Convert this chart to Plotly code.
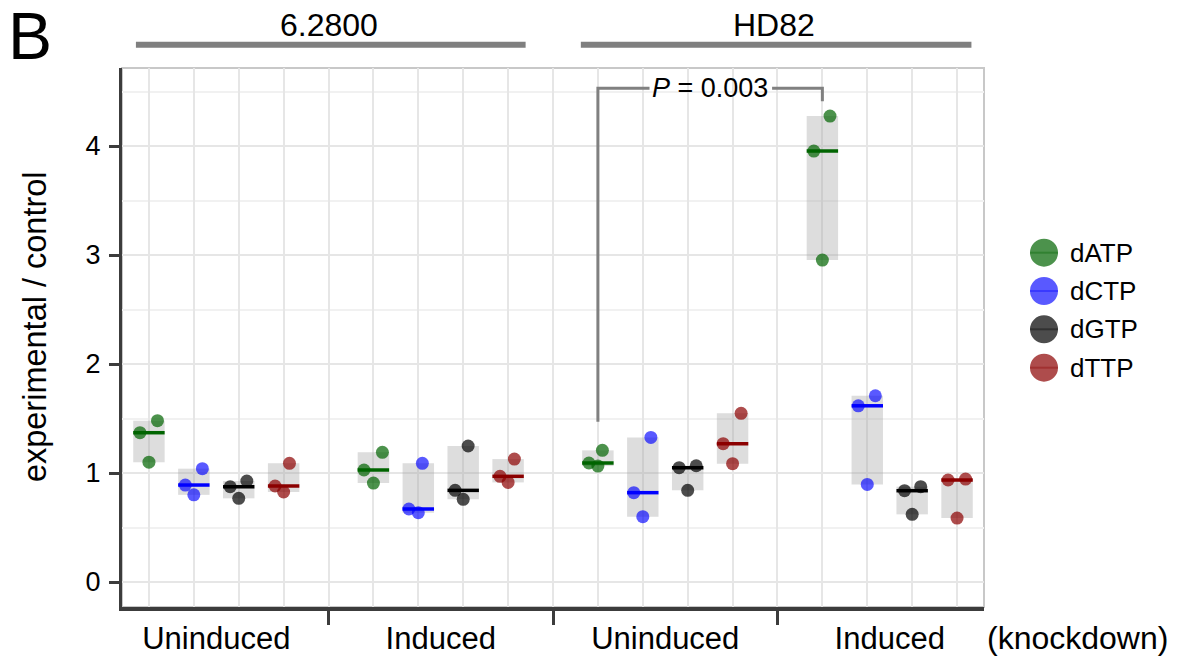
import numpy as np
import plotly.graph_objects as go

# ---------------- data ----------------
cell_lines = ["6.2800", "HD82"]
conditions = ["Uninduced", "Induced", "Uninduced", "Induced"]
nucleotides = ["dATP", "dCTP", "dGTP", "dTTP"]

# replicate values per condition group (3 replicates each)
dATP = [[1.37, 1.10, 1.48], [1.028, 0.908, 1.19], [1.092, 1.064, 1.208], [3.954, 2.954, 4.275]]
dCTP = [[0.89, 0.80, 1.04], [0.670, 0.636, 1.089], [0.82, 0.60, 1.327], [1.617, 0.896, 1.709]]
dGTP = [[0.874, 0.768, 0.927], [0.841, 0.759, 1.248], [1.049, 0.841, 1.067], [0.838, 0.621, 0.875]]
dTTP = [[0.881, 0.826, 1.089], [0.97, 0.914, 1.128], [1.269, 1.086, 1.548], [0.936, 0.587, 0.945]]

# horizontal jitter of each replicate point
jit_dATP = [[-0.2, 0, 0.19], [-0.21, 0, 0.2], [-0.2, 0, 0.1], [-0.19, 0, 0.17]]
jit_dCTP = [[-0.19, 0, 0.19], [-0.21, 0, 0.09], [-0.2, 0, 0.18], [-0.2, 0, 0.18]]
jit_dGTP = [[-0.19, 0, 0.18], [-0.18, 0, 0.11], [-0.19, 0, 0.19], [-0.17, 0, 0.19]]
jit_dTTP = [[-0.19, 0, 0.13], [-0.18, 0, 0.14], [-0.21, 0, 0.19], [-0.2, 0, 0.19]]

p_value_text = "<i>P</i> = 0.003"
x_extra_label = "(knockdown)"
y_title = "experimental / control"
panel_letter = "B"
y_ticks = [0, 1, 2, 3, 4]

# ---------------- style ----------------
FONT = "Liberation Sans, Arial, Helvetica, sans-serif"
line_colors = {"dATP": "#006400", "dCTP": "#0000ff", "dGTP": "#000000", "dTTP": "#8b0000"}
pt_colors = {"dATP": "rgba(0,100,0,0.7)", "dCTP": "rgba(0,0,255,0.65)",
             "dGTP": "rgba(0,0,0,0.7)", "dTTP": "rgba(139,0,0,0.7)"}
AX = "#3c3c3c"
GRID = "#e6e6e6"
BOXW = 0.7

values = {"dATP": dATP, "dCTP": dCTP, "dGTP": dGTP, "dTTP": dTTP}
jitters = {"dATP": jit_dATP, "dCTP": jit_dCTP, "dGTP": jit_dGTP, "dTTP": jit_dTTP}

XR = [0.4, 19.6]
YR = [-0.229, 4.716]

fig = go.Figure()

# range boxes
for k, nt in enumerate(nucleotides):
    pos, lo, hi = [], [], []
    for g in range(4):
        v = values[nt][g]
        pos.append(1 + 5 * g + k)
        lo.append(min(v))
        hi.append(max(v) - min(v))
    fig.add_trace(go.Bar(x=pos, y=hi, base=lo, width=BOXW,
                         marker=dict(color="rgba(160,160,160,0.36)", line=dict(width=0)),
                         showlegend=False, hoverinfo="skip"))

# median lines
for k, nt in enumerate(nucleotides):
    xs, ys = [], []
    for g in range(4):
        p = 1 + 5 * g + k
        m = float(np.median(values[nt][g]))
        xs += [p - BOXW / 2, p + BOXW / 2, None]
        ys += [m, m, None]
    fig.add_trace(go.Scatter(x=xs, y=ys, mode="lines",
                             line=dict(color=line_colors[nt], width=3.5),
                             showlegend=False, hoverinfo="skip"))

# points
for k, nt in enumerate(nucleotides):
    xs, ys = [], []
    for g in range(4):
        p = 1 + 5 * g + k
        for v, j in zip(values[nt][g], jitters[nt][g]):
            xs.append(p + j)
            ys.append(v)
    fig.add_trace(go.Scatter(x=xs, y=ys, mode="markers", name=nt,
                             marker=dict(color=pt_colors[nt], size=13, line=dict(width=0)),
                             showlegend=False))

# dummy trace for grid axis
fig.add_trace(go.Scatter(x=[None], y=[None], xaxis="x2", yaxis="y",
                         showlegend=False, hoverinfo="skip"))

shapes = []
annotations = []

# panel frame (light)
shapes.append(dict(type="rect", xref="x domain", yref="y domain", x0=0, x1=1, y0=0, y1=1,
                   line=dict(color="#c8c8c8", width=2), layer="below"))

# top cell line bars
bar_spans = [(0.71, 9.39), (10.62, 19.32)]
for (a, b), name in zip(bar_spans, cell_lines):
    shapes.append(dict(type="line", xref="x", yref="paper", x0=a, x1=b, y0=1.0432, y1=1.0432,
                       line=dict(color="#7f7f7f", width=6)))
    annotations.append(dict(text=name, xref="x", yref="paper", x=(a + b) / 2 - 0.05, y=1.0798,
                            showarrow=False, font=dict(size=32, color="black", family=FONT),
                            xanchor="center", yanchor="middle"))

# P-value bracket
bc = "#808080"
shapes.append(dict(type="path", xref="x", yref="y",
                   path="M 11,1.47 L 11,4.53 L 12.15,4.53",
                   line=dict(color=bc, width=3)))
shapes.append(dict(type="path", xref="x", yref="y",
                   path="M 14.88,4.53 L 16,4.53 L 16,4.41",
                   line=dict(color=bc, width=3)))
annotations.append(dict(text=p_value_text, xref="x", yref="y", x=13.5, y=4.53,
                        showarrow=False, font=dict(size=27, color="black", family=FONT),
                        xanchor="center", yanchor="middle"))

# y axis title
annotations.append(dict(text=y_title, xref="paper", yref="paper", x=-0.101, y=0.521,
                        textangle=-90, showarrow=False,
                        font=dict(size=32.5, color="black", family=FONT),
                        xanchor="center", yanchor="middle"))

# extra x label
annotations.append(dict(text=x_extra_label, xref="paper", yref="paper", x=1.109, y=-0.057,
                        showarrow=False, font=dict(size=32, color="black", family=FONT),
                        xanchor="center", yanchor="middle"))

# panel letter
annotations.append(dict(text=panel_letter, xref="paper", yref="paper", x=-0.135, y=1.059,
                        showarrow=False, font=dict(size=66, color="black", family=FONT),
                        xanchor="left", yanchor="middle"))

# custom legend
leg_y_px = [252.7, 291.0, 329.3, 367.7]
for nt, ypx in zip(nucleotides, leg_y_px):
    yp = (607 - ypx) / 539
    xp = (1044 - 122) / 862
    shapes.append(dict(type="circle", xref="paper", yref="paper",
                       xsizemode="pixel", ysizemode="pixel", xanchor=xp, yanchor=yp,
                       x0=-14, x1=14, y0=-14, y1=14,
                       fillcolor=pt_colors[nt], line=dict(width=0)))
    shapes.append(dict(type="line", xref="paper", yref="paper",
                       xsizemode="pixel", ysizemode="pixel", xanchor=xp, yanchor=yp,
                       x0=-14, x1=14, y0=0, y1=0,
                       line=dict(color=line_colors[nt], width=2), opacity=0.35))
    annotations.append(dict(text=nt, xref="paper", yref="paper", x=(1068 - 122) / 862, y=yp,
                            showarrow=False, font=dict(size=26, color="black", family=FONT),
                            xanchor="left", yanchor="middle"))

fig.update_layout(
    width=1179, height=659,
    margin=dict(l=122, r=195, t=68, b=52, autoexpand=False),
    plot_bgcolor="white", paper_bgcolor="white",
    barmode="overlay",
    font=dict(family=FONT, color="black"),
    shapes=shapes, annotations=annotations,
    xaxis=dict(range=XR, tickmode="array", tickvals=[2.5, 7.5, 12.5, 17.5],
               ticktext=conditions, ticks="", showgrid=False, zeroline=False,
               showline=True, linecolor=AX, linewidth=4, automargin=False,
               tickfont=dict(size=31, color="black"), ticklabelstandoff=1,
               minor=dict(tickmode="array", tickvals=[5, 10, 15], ticks="outside",
                          ticklen=14, tickwidth=3, tickcolor=AX, showgrid=False)),
    xaxis2=dict(range=XR, overlaying="x", anchor="y", tickmode="array", automargin=False,
                tickvals=list(range(1, 20)), showgrid=True, gridcolor=GRID, gridwidth=2,
                showticklabels=False, ticks="", showline=False, zeroline=False),
    yaxis=dict(range=YR, tickmode="array", tickvals=y_ticks, ticks="outside",
               ticklen=10, tickwidth=3, tickcolor=AX, showline=True, linecolor=AX,
               linewidth=3, showgrid=True, gridcolor=GRID, gridwidth=2, zeroline=False,
               automargin=False,
               tickfont=dict(size=27, color="black"), ticklabelstandoff=3,
               minor=dict(tickmode="array", tickvals=[0.5, 1.5, 2.5, 3.5, 4.5],
                          showgrid=True, gridcolor="#f1f1f1", gridwidth=2, ticks="")),
)

fig.write_html("out.html", config={"displayModeBar": False},
               post_script="document.body.style.margin='0';document.body.style.overflow='hidden';")
